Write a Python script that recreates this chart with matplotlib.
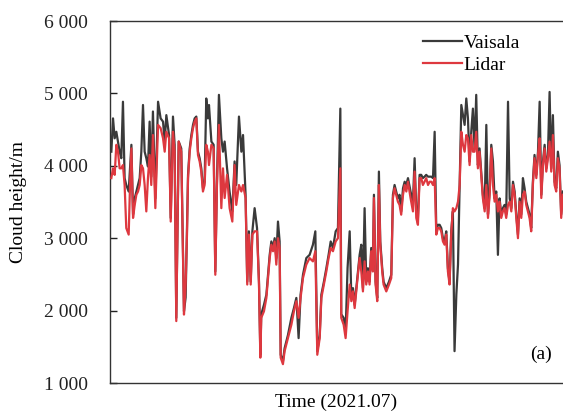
import matplotlib
matplotlib.use("Agg")
import matplotlib.pyplot as plt
import numpy as np

# time (day of July 2021)
day = [
    1.09, 1.20, 1.31, 1.42, 1.53, 1.64, 1.75, 1.86, 1.97, 2.08, 2.24, 2.33, 2.42, 2.53, 2.64, 2.75, 2.86, 2.97,
    3.08, 3.19, 3.30, 3.41, 3.52, 3.63, 3.74, 3.85, 4.01, 4.19, 4.36, 4.52, 4.63, 4.74, 4.92, 5.03, 5.18, 5.29,
    5.40, 5.56, 5.73, 5.91,
    6.02, 6.11, 6.18, 6.29, 6.40, 6.51, 6.62, 6.73, 6.84, 6.95, 7.06, 7.17, 7.28, 7.39, 7.50, 7.57, 7.73, 7.88,
    7.99, 8.10, 8.23, 8.39, 8.50, 8.61, 8.77, 8.94, 9.12, 9.27, 9.38, 9.56, 9.72, 9.83, 10.00, 10.11, 10.22,
    10.34, 10.45, 10.60, 10.76, 10.89, 10.98,
    11.04, 11.22, 11.38, 11.49, 11.60, 11.71, 11.82, 11.93, 12.04, 12.15, 12.26, 12.33, 12.48, 12.59, 12.81,
    13.04, 13.21, 13.37, 13.52, 13.65, 13.81, 14.03, 14.25, 14.47, 14.63, 14.76, 14.92, 15.03, 15.20, 15.36,
    15.51, 15.65, 15.80,
    15.98, 16.13, 16.29, 16.35, 16.51, 16.64, 16.77, 16.91, 17.02, 17.13, 17.24, 17.39, 17.57, 17.68, 17.79,
    17.90, 18.01, 18.12, 18.23, 18.34, 18.45, 18.52, 18.63, 18.74, 18.85, 18.94, 19.07, 19.16, 19.34, 19.52,
    19.67, 19.78, 19.89, 20.00, 20.11, 20.22, 20.33, 20.45, 20.56, 20.67, 20.78,
    20.95, 21.11, 21.22, 21.33, 21.44, 21.55, 21.66, 21.77, 21.88, 21.99, 22.11, 22.22, 22.33, 22.44, 22.55,
    22.66, 22.77, 22.88, 22.99, 23.10, 23.21, 23.32, 23.43, 23.54, 23.65, 23.76, 23.87, 23.99, 24.10, 24.21,
    24.32, 24.43, 24.54, 24.65, 24.76, 24.87, 24.98, 25.09, 25.20, 25.31, 25.42, 25.53, 25.64, 25.75, 25.87,
    25.98, 26.09, 26.20, 26.31, 26.42, 26.53, 26.64, 26.75, 26.86, 26.97, 27.08, 27.19, 27.30, 27.42, 27.53,
    27.64, 27.75, 27.86, 27.97, 28.08, 28.19, 28.30, 28.41, 28.52, 28.63, 28.74, 28.85, 28.96, 29.07, 29.18,
    29.30, 29.41, 29.52, 29.63, 29.74, 29.85, 29.96, 30.07, 30.18, 30.29, 30.40, 30.51, 30.62, 30.73, 30.84,
    30.95, 31.06,
]

lidar = [
    3830, 3965, 3875, 4290, 4195, 3965, 3965, 4010, 3735, 3140, 3050, 3735, 4240, 3280, 3460, 3600, 3645, 3735,
    4010, 3965, 3735, 3370, 3830, 4150, 3735, 4425, 3415, 4565, 4520, 4380, 4195, 4470, 4380, 3230, 4470, 4195,
    1855, 4335, 4195, 1945,
    2360, 3050, 3830, 4195, 4380, 4520, 4610, 4655, 4150, 4060, 3920, 3645, 3735, 4290, 4195, 4010, 4290, 4240,
    2495, 3735, 4565, 3415, 3965, 3555, 3875, 3415, 3230, 4010, 3460, 3735, 3645, 3735, 3555, 2360, 3050,
    2360, 3050, 3095, 3095, 2360, 1350,
    1900, 1990, 2175, 2450, 2725, 2910, 2820, 2955, 2635, 3000, 2865, 1350, 1260, 1440, 1620,
    1805, 1990, 2130, 1900, 2175, 2450, 2635, 2725, 2680, 2820, 1390, 1620, 2175, 2360, 2540,
    2725, 2865, 2820,
    2955, 3000, 3965, 1900, 1805, 1620, 1990, 2360, 2130, 2265, 2035, 2360, 2725, 2540, 2265,
    2680, 2360, 2540, 2360, 2820, 2540, 3555, 2360, 2130, 3735, 2910, 2540, 2360, 2265, 2360,
    2450, 3555, 3690, 3600, 3505, 3460, 3325, 3600, 3735, 3645, 3780,
    3555, 3370, 3920, 3280, 3185, 3830, 3830, 3735, 3780, 3830, 3735, 3780, 3780, 3735, 3830,
    3050, 3140, 3140, 3095, 2955, 2910, 3050, 2540, 2360, 3050, 3415, 3370, 3415, 3505, 3735,
    4470, 4290, 4195, 4425, 4380, 4010, 4425, 4195, 4195, 4470, 3965, 4195, 3875, 3555, 3370,
    3735, 3280, 3600, 4240, 3735, 3505, 3600, 3370, 3505, 3280, 3370, 3415, 3280, 3460, 3505,
    3370, 3735, 3600, 3280, 3000, 3505, 3280, 3600, 3645, 3460, 3370, 3280, 3095, 3735, 4105,
    3830, 4150, 4380, 3555, 4010, 4240, 3920, 4105, 4335, 3920, 4425, 3735, 3645, 4105, 3965,
    3280, 3600,
]

vaisala = [
    4195, 4655, 4380, 4470, 4335, 4195, 4105, 4885, 3830, 3735, 3645, 3965, 4290, 3330, 3550, 3645, 3735, 3830,
    4195, 4840, 4195, 4105, 3990, 4610, 3850, 4750, 3550, 4885, 4655, 4610, 4335, 4700, 4425, 3280, 4680, 4290,
    1900, 4335, 4240, 1990,
    2180, 3140, 3875, 4240, 4425, 4565, 4655, 4680, 4195, 4105, 3965, 3690, 3780, 4930, 4655, 4840, 4335, 4290,
    2540, 3780, 4980, 4380, 4195, 4335, 3965, 3640, 3370, 4060, 3735, 4680, 4195, 4425, 3600, 2400, 3095,
    2400, 3095, 3415, 3140, 2400, 1390,
    1950, 2080, 2220, 2495, 2770, 2955, 2865, 3000, 2725, 3230, 2955, 1390, 1300, 1480, 1660,
    1900, 2035, 2175, 1620, 2220, 2495, 2725, 2770, 2910, 3095, 1440, 1660, 2220, 2400, 2585,
    2770, 2955, 2865,
    3095, 3140, 4790, 1950, 1900, 1710, 2590, 3095, 2175, 2310, 2080, 2400, 2770, 2910, 2310,
    3415, 2400, 2585, 2400, 2865, 2585, 3600, 2400, 2175, 3920, 2955, 2585, 2400, 2310, 2400,
    2495, 3600, 3735, 3645, 3550, 3600, 3370, 3690, 3780, 3735, 3830,
    3645, 3505, 4105, 3370, 3280, 3875, 3875, 3830, 3850, 3875, 3850, 3850, 3850, 3830, 4470,
    3095, 3185, 3185, 3140, 3000, 2955, 3095, 2585, 2400, 3095, 3370, 1440, 2220, 2635, 3735,
    4840, 4700, 4565, 4930, 4655, 4060, 4470, 4790, 4240, 4980, 4010, 4240, 3920, 3600, 3415,
    4565, 3330, 3645, 4290, 4060, 3550, 3645, 2770, 3550, 3330, 3415, 3460, 3330, 4885, 3550,
    3415, 3780, 3645, 3330, 3050, 3550, 3330, 3830, 3690, 3505, 3415, 3330, 3140, 3780, 4150,
    3875, 4195, 4885, 3600, 4060, 4290, 3965, 4150, 5020, 3965, 4700, 3780, 3690, 4195, 4010,
    3330, 3645,
]

series_labels = ["Vaisala", "Lidar"]
yticks = [1000, 2000, 3000, 4000, 5000, 6000]
ytick_labels = ["1 000", "2 000", "3 000", "4 000", "5 000", "6 000"]

plt.rcParams['font.family'] = ['Liberation Serif', 'DejaVu Serif']

W, H = 563, 419
fig = plt.figure(figsize=(W / 100, H / 100), dpi=100)
ax = fig.add_axes([110 / W, 1 - 383 / H, 1 - 110 / W, (383 - 21) / H])

ax.plot(day, vaisala, color="#3a3a3a", lw=1.6, label=series_labels[0], zorder=2)
ax.plot(day, lidar, color="#de383f", lw=1.6, label=series_labels[1], zorder=3)

ax.set_xlim(1.0, 31.07)
ax.set_ylim(1000, 6000)
ax.set_yticks(yticks)
ax.set_yticklabels(ytick_labels, fontsize=14)
ax.set_xticks([])
ax.tick_params(axis='y', direction='in', length=5, width=1, pad=16, colors="#222222")

for s in ["left", "top", "bottom"]:
    ax.spines[s].set_color("#333333")
    ax.spines[s].set_linewidth(1.0)
ax.spines["right"].set_visible(False)

ax.set_xlabel("Time (2021.07)", fontsize=14, labelpad=8)
ax.set_ylabel("Cloud height/m", fontsize=14, labelpad=12)

leg = ax.legend(loc="upper right", bbox_to_anchor=(0.922, 0.985), frameon=False, fontsize=14,
                handlelength=2.0, handletextpad=0.1, labelspacing=0.25, borderaxespad=0.0)

ax.text(0.975, 0.08, "(a)", transform=ax.transAxes, fontsize=14, ha="right", va="center")

fig.savefig("out.png", dpi=100)
